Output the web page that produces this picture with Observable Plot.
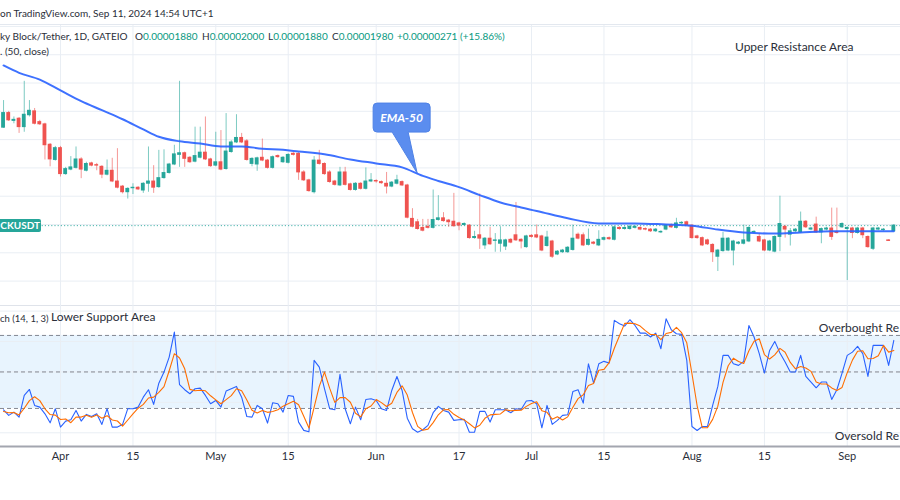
<!DOCTYPE html>
<html><head><meta charset="utf-8">
<script src="https://cdn.jsdelivr.net/npm/d3@7"></script>
<script src="https://cdn.jsdelivr.net/npm/@observablehq/plot@0.6"></script>
<style>
body{margin:0;background:#fff;}
#wrap{position:relative;width:900px;height:500px;overflow:hidden;background:#fff;font-family:Lato,"Open Sans",sans-serif;}
.abs{position:absolute;white-space:nowrap;line-height:1;}
.hd{font-size:10px;color:#2a2e39;}
.val{color:#089981;}
.note{font-size:12px;color:#2a2e39;}
</style></head><body><div id="wrap"></div>
<script>
// ---- data (prices in units of 0.000001 USDT) ----
const startDate = "2024-03-21";
const skippedDate = "2024-08-24"; // one daily bar is absent between Aug 15 and Sep 1
const barCount = 173;

const open = [37.1,39.7,38.3,38.7,37.2,39.3,40.0,38.1,37.7,34.1, 31.4,33.5,28.9,29.7,30.0,31.5,29.5,30.8,30.5,30.2,
28.8,29.5,27.6,26.7,25.7,26.4,26.5,26.0,27.2,27.6, 26.6,28.2,29.1,30.6,32.3,32.6,31.8,31.1,31.8,32.7,
31.5,30.4,31.0,29.8,32.8,34.5,35.3,34.7,30.7,30.6, 31.8,31.3,30.0,32.1,31.0,30.9,32.5,32.5,29.2,27.8,
25.7,31.3,30.7,29.2,27.6,26.9,29.2,27.1,26.1,27.2, 26.3,27.6,27.7,27.5,27.2,26.7,27.2,27.5,26.9,21.0,
20.4,19.4,19.6,19.4,20.8,21.1,20.7,20.5,20.2,19.9, 19.8,17.6,18.1,16.3,17.5,17.1,16.6,16.1,17.3,18.1,
17.3,16.0,18.0,18.1,17.9,16.2,17.0,14.7,15.1,15.1, 15.5,18.2,18.1,16.4,16.8,16.3,17.3,17.6,17.3,19.4,
19.2,19.2,19.4,19.4,19.2,19.1,18.8,18.6,19.1,19.8, 19.4,20.2,20.4,19.8,17.9,17.6,17.2,16.4,14.3,15.3,
15.4,15.4,16.6,16.6,17.0,18.6,17.8,17.2,15.4,15.2, 17.8,19.6,18.2,18.8,18.6,20.5,19.1,20.0,18.6,19.1,
19.3,18.7,19.5,19.2,19.3,18.5,19.3,17.8,15.7,19.1, 19.0,17.2,18.8];
const high = [41.9,40.0,39.0,38.9,45.3,41.9,40.5,38.4,37.9,34.3, 33.8,33.8,30.1,32.0,33.7,31.8,31.0,31.0,30.8,30.4,
31.4,31.7,33.4,26.9,26.5,27.2,26.7,27.4,33.7,30.4, 33.1,33.2,30.8,34.0,45.3,32.8,32.0,37.2,37.2,39.0,
31.7,36.3,36.6,39.6,34.8,39.4,36.1,35.0,31.8,31.9, 35.1,31.5,32.1,32.3,32.0,32.5,32.7,32.7,29.5,28.0,
32.0,33.1,30.9,29.5,27.8,30.1,30.1,27.3,27.4,27.4, 30.0,29.0,27.9,27.7,29.2,27.6,28.7,27.7,27.1,22.8,
20.9,20.9,20.9,26.1,25.1,22.1,20.9,25.5,20.4,20.3, 20.0,18.8,25.4,17.7,19.5,18.4,19.6,17.4,17.5,23.9,
17.5,18.1,18.2,19.9,18.1,18.8,17.2,15.4,15.6,16.1, 19.9,18.5,18.5,19.2,17.0,18.9,17.8,17.8,19.7,19.6,
19.6,19.8,19.8,19.6,19.4,19.3,19.3,18.9,20.0,20.1, 21.1,20.5,20.6,20.0,18.1,17.8,17.4,16.6,15.6,18.6,
17.7,17.2,17.0,19.9,19.6,18.9,18.4,17.4,17.2,18.0, 25.0,19.8,19.3,19.3,22.2,20.7,19.5,21.3,19.4,19.5,
22.9,22.9,20.3,19.6,19.5,19.5,19.5,18.0,19.5,19.5, 19.3,17.3,20.0];
const low = [37.0,38.2,37.8,36.1,36.3,39.0,37.6,37.5,31.4,30.2, 31.2,28.4,28.7,29.5,29.8,28.1,29.3,30.2,29.5,28.1,
28.6,27.4,26.3,25.4,24.5,25.3,26.0,25.5,25.7,25.5, 26.4,28.0,28.9,30.4,30.1,30.1,30.8,30.9,31.6,31.3,
30.1,30.2,29.5,29.6,32.6,34.3,34.3,31.2,30.2,29.4, 31.1,29.8,29.8,31.7,30.8,30.7,32.1,27.8,27.6,25.7,
25.4,30.5,28.7,27.3,26.8,26.7,26.8,25.9,25.9,26.1, 26.1,27.4,27.3,27.1,25.4,26.5,27.0,26.7,21.0,19.4,
19.0,18.7,19.2,19.2,20.6,20.4,19.5,19.5,18.9,19.7, 17.4,17.4,15.6,15.6,16.3,15.1,15.1,15.4,16.6,17.0,
15.7,15.8,17.6,17.5,15.2,16.0,14.0,14.5,14.9,14.9, 15.3,17.3,16.1,16.2,16.4,16.1,17.1,17.2,17.1,19.0,
19.0,19.0,19.2,18.9,18.9,18.6,18.6,18.4,18.9,19.3, 19.2,20.0,19.7,17.4,17.4,16.1,16.3,13.3,11.7,15.1,
15.2,12.7,16.4,16.4,16.8,18.4,16.8,15.2,15.2,15.0, 15.2,17.6,16.2,18.6,18.4,19.3,18.9,18.4,16.6,18.9,
17.2,18.3,19.3,10.1,17.5,18.3,17.5,15.8,15.4,18.9, 18.8,17.0,18.8];
const close = [39.7,38.4,38.5,37.2,39.4,40.1,37.8,37.7,34.0,31.5, 33.5,28.9,29.8,30.1,31.5,29.7,30.7,30.4,30.4,28.8,
29.5,27.6,26.5,25.7,26.3,26.5,26.2,27.2,27.6,26.5, 28.2,29.1,30.6,32.4,32.6,31.6,31.0,32.1,32.7,31.5,
30.3,31.0,29.7,32.9,34.5,35.3,34.5,31.4,31.6,31.7, 31.3,30.0,31.9,31.9,31.8,32.3,32.3,29.2,27.8,25.9,
31.3,30.7,28.9,27.5,27.0,29.2,27.0,26.1,27.2,26.3, 27.6,27.8,27.6,27.3,26.7,27.4,27.8,26.9,21.2,19.6,
19.2,18.9,19.4,20.8,21.1,20.6,20.4,19.7,19.8,20.1, 17.6,17.8,17.5,17.5,16.5,17.2,17.2,17.2,16.8,17.2,
17.0,17.9,17.8,17.7,15.4,17.7,14.3,15.2,15.4,15.9, 17.5,17.5,16.3,17.3,16.6,17.3,17.6,17.4,19.5,19.2,
19.4,19.6,19.6,19.1,19.1,18.8,19.1,18.7,19.8,19.5, 20.2,20.3,19.9,17.6,17.6,16.3,16.5,15.1,15.4,17.5,
17.5,17.0,16.8,17.2,19.4,18.7,17.0,15.4,17.0,17.8, 20.1,19.1,18.8,19.1,20.5,19.5,19.3,18.6,19.2,19.3,
17.8,18.5,20.1,19.4,18.5,19.3,18.1,16.0,19.3,19.3, 19.1,17.09,19.8];

const emaDates = ["2024-03-21","2024-03-24","2024-03-28","2024-04-01","2024-04-05","2024-04-09","2024-04-13","2024-04-17",
"2024-04-20","2024-04-24","2024-04-28","2024-05-02","2024-05-06","2024-05-10","2024-05-14","2024-05-17","2024-05-22",
"2024-05-27","2024-06-01","2024-06-06","2024-06-10","2024-06-13","2024-06-17","2024-06-21","2024-06-25","2024-06-29",
"2024-07-02","2024-07-08","2024-07-14","2024-07-21","2024-07-27","2024-08-01","2024-08-06","2024-08-11","2024-08-17",
"2024-08-22","2024-08-29","2024-09-05","2024-09-10"];
const emaValues = [48.1,46.8,45.6,43.7,41.8,40.2,38.6,36.8,35.5,34.7,34.3,33.8,33.8,33.4,33.2,32.9,32.4,31.5,30.8,30.1,
28.6,27.7,26.6,25.2,23.9,23.0,22.4,21.1,20.2,20.2,20.0,19.8,19.1,18.6,18.4,18.6,18.8,18.8,18.8];

const stochK = [18.9,14.3,17.0,12.9,30.7,35.6,22.5,21.1,15.6,8.2, 19.8,4.7,9.6,10.7,18.4,9.6,15.1,13.4,15.6,6.9,
19.8,4.7,4.7,6.9,19.8,19.8,21.1,29.3,35.4,23.3, 40.8,49.9,62.2,82.8,39.5,35.4,32.1,36.2,36.7,30.7,
23.9,26.6,21.1,34.3,36.2,38.1,29.3,13.4,12.9,22.5, 19.8,8.0,24.7,23.9,17.0,30.7,29.9,8.8,2.0,0.8,
59.5,54.0,36.2,19.8,18.9,48.0,19.8,7.4,21.1,10.7, 27.4,28.0,26.6,19.8,18.4,34.8,46.3,34.8,12.0,3.3,
0.5,2.5,6.1,16.5,21.7,18.4,17.0,10.2,10.7,11.0, 0.5,0.5,17.6,17.6,8.8,18.9,18.9,18.9,16.5,19.8,
19.2,26.1,26.6,23.9,4.1,22.5,6.9,10.2,14.3,14.8, 34.0,35.4,24.4,56.7,40.8,56.7,58.7,57.3,92.4,89.6,
87.7,92.9,88.2,81.9,81.9,78.7,81.9,69.1,93.7,84.7, 81.4,80.9,59.5,5.2,1.9,5.2,5.2,22.5,38.1,63.6,
63.6,56.7,55.4,58.7,88.2,78.7,65.0,49.1,67.7,75.1, 65.5,58.1,49.9,49.9,63.6,46.3,41.7,37.0,41.7,41.7,
27.4,35.4,49.1,63.6,66.3,71.0,65.0,46.3,71.8,71.8, 71.8,55.4,75.9];
const stochD = [17.5,16.5,16.7,14.7,20.2,26.4,29.6,26.4,19.7,15.0, 14.5,10.9,11.4,8.3,12.9,12.9,14.4,12.7,14.7,12.0,
14.1,10.5,9.7,5.4,10.5,15.5,20.2,23.4,28.6,29.3, 33.2,38.0,51.0,65.0,61.5,52.6,35.7,34.6,35.0,34.5,
30.4,27.1,23.9,27.3,30.5,36.2,34.5,26.9,18.5,16.3, 18.4,16.8,17.5,18.9,21.9,23.9,25.9,23.1,13.6,3.9,
20.8,38.1,49.9,36.7,25.0,28.9,28.9,25.1,16.1,13.1, 19.7,22.0,27.3,24.8,21.6,24.3,33.2,38.6,31.0,16.7,
5.3,2.1,3.0,8.4,14.8,18.9,19.0,15.2,12.6,10.6, 7.4,4.0,6.2,11.9,14.7,15.1,15.5,18.9,18.1,18.4,
18.5,21.7,24.0,25.5,18.2,16.8,11.2,13.2,10.5,13.1, 21.0,28.1,31.3,38.8,40.6,51.4,52.1,57.6,69.5,79.8,
89.9,90.1,89.6,87.7,84.0,80.8,80.8,76.6,81.6,82.5, 86.6,82.3,73.9,48.5,22.2,4.1,4.1,11.0,21.9,41.4,
55.1,61.3,58.6,56.9,67.4,75.2,77.3,64.3,60.6,64.0, 69.4,66.2,57.8,52.6,54.5,53.3,50.5,41.7,40.1,40.1,
36.9,34.8,37.3,49.4,59.7,67.0,67.4,60.8,61.0,63.3, 71.8,66.3,67.7];

const tickDates = ["2024-04-01","2024-04-15","2024-05-01","2024-05-15","2024-06-01","2024-06-17","2024-07-01","2024-07-15","2024-08-01","2024-08-15","2024-09-01"];
const tickLabels = ["Apr","15","May","15","Jun","17","Jul","15","Aug","15","Sep"];
const priceGrid = [10,15,20,25,30,35,40,45,50,55];
const stochGrid = [0,25,50,75,100];
const stochLevels = [80,50,20];
const stochBand = [20,80];
const lastClose = 19.8;
const callout = {date:"2024-06-09", price:29.0, text:"EMA-50"};

// ---- build ----
const dates = [];
for (let d = new Date(startDate + "T00:00:00Z"); dates.length < barCount; d.setUTCDate(d.getUTCDate() + 1)) {
  const s = d.toISOString().slice(0, 10);
  if (s !== skippedDate) dates.push(s);
}
const barOf = s => dates.indexOf(s);
const GREEN = "#26a69a", RED = "#ef5350";
const bars = dates.map((date, i) => ({bar: i, date, open: open[i], high: high[i], low: low[i], close: close[i],
  color: close[i] >= open[i] ? GREEN : RED}));
const ema = emaDates.map((d, i) => ({bar: barOf(d), value: emaValues[i]}));
const stoch = dates.map((d, i) => ({bar: i, k: stochK[i], d: stochD[i]}));
const tickBars = tickDates.map(barOf);
const tickLabel = new Map(tickBars.map((b, i) => [b, tickLabels[i]]));
const GRID = "#e9eef4";
const xDomain = [-0.59, 173.29];

const wrap = document.getElementById("wrap");

const price = Plot.plot({
  width: 900, height: 281, marginTop: 0, marginBottom: 0, marginLeft: 0, marginRight: 0,
  x: {type: "linear", domain: xDomain, axis: null, label: null},
  y: {domain: [5.69, 55.34], axis: null, label: null},
  color: {type: "identity"},
  style: {background: "transparent", overflow: "visible"},
  marks: [
    Plot.ruleY(priceGrid, {stroke: GRID}),
    Plot.ruleX(tickBars, {stroke: GRID}),
    Plot.ruleY([lastClose], {stroke: GREEN, strokeDasharray: "1.2 2", strokeOpacity: 0.85}),
    Plot.ruleX(bars, {x: "bar", y1: "low", y2: "high", stroke: "color", strokeOpacity: 0.6}),
    Plot.rect(bars, {x1: d => d.bar - 0.37, x2: d => d.bar + 0.37, y1: "open", y2: "close", fill: "color", insetTop: -0.45, insetBottom: -0.45}),
    Plot.line(ema, {x: "bar", y: "value", stroke: "#2962ff", strokeWidth: 2, curve: "monotone-x", strokeOpacity: 0.9}),
    Plot.frame({anchor: "bottom", stroke: "#dfe3ea"}),
    Plot.frame({anchor: "top", stroke: "#e3e8ef"})
  ]
});
price.style.position = "absolute"; price.style.left = "0px"; price.style.top = "24px";
wrap.appendChild(price);

const sto = Plot.plot({
  width: 900, height: 165, marginTop: 0, marginBottom: 24, marginLeft: 0, marginRight: 0,
  x: {type: "linear", domain: xDomain, label: null},
  y: {domain: [-11.26, 104.6], axis: null, label: null},
  style: {background: "transparent", fontFamily: "Lato, sans-serif", fontSize: "11px", overflow: "visible"},
  marks: [
    Plot.rect([stochBand], {x1: xDomain[0], x2: xDomain[1], y1: d => d[0], y2: d => d[1], fill: "#2196f3", fillOpacity: 0.1}),
    Plot.ruleY(stochGrid, {stroke: GRID}),
    Plot.ruleX(tickBars, {stroke: GRID}),
    Plot.ruleY(stochLevels, {stroke: "#787b86", strokeDasharray: "4 3", strokeOpacity: 0.9}),
    Plot.line(stoch, {x: "bar", y: "k", stroke: "#2962ff", strokeWidth: 1.1}),
    Plot.line(stoch, {x: "bar", y: "d", stroke: "#ff6d00", strokeWidth: 1.1}),
    Plot.frame({anchor: "bottom", stroke: "#a3a6af", strokeWidth: 2}),
    Plot.axisX(tickBars, {tickSize: 0, tickPadding: 6, tickFormat: b => tickLabel.get(b), fill: "#2a2e39", fontSize: 11, label: null})
  ]
});
sto.style.position = "absolute"; sto.style.left = "0px"; sto.style.top = "305px";
wrap.appendChild(sto);

// ---- text overlays ----
function addText(txt, left, top, cls, extra) {
  const el = document.createElement("div");
  el.className = "abs " + cls; el.textContent = txt;
  if (left !== null) el.style.left = left + "px";
  el.style.top = top + "px";
  if (extra) Object.assign(el.style, extra);
  wrap.appendChild(el); return el;
}
addText("on TradingView.com, Sep 11, 2024 14:54 UTC+1", 0, 8, "hd");
addText("ky Block/Tether, 1D, GATEIO", 0, 31, "hd");
const seg = [["O", "0.00001880", 135], ["H", "0.00002000", 202], ["L", "0.00001880", 268], ["C", "0.00001980", 332]];
for (const [k, v, x] of seg) {
  const el = addText(k, x, 31, "hd");
  const s = document.createElement("span"); s.className = "val"; s.textContent = v; el.appendChild(s);
}
addText("+0.00000271", 397, 31, "hd val");
addText("(+15.86%)", 460, 31, "hd val");
addText(". (50, close)", 0, 46, "hd");
addText("ch (14, 1, 3)", 0, 313.5, "hd", {fontSize: "9.5px"});
addText("Lower Support Area", 51, 311, "note");
addText("Upper Resistance Area", 735, 41, "note");
addText("Overbought Re", null, 322, "note", {right: "1px"});
addText("Oversold Re", null, 430, "note", {right: "1px"});

// last price label
const sy = price.scale("y"), sx = price.scale("x");
const ly = sy.apply(lastClose) + 24;
addText("CKUSDT", 0, ly - 6.5, "", {background: GREEN, color: "#fff", fontSize: "10px", fontWeight: "700",
  height: "13px", lineHeight: "13px", width: "41px", textAlign: "right", paddingRight: "1px", borderRadius: "0 2px 2px 0", boxSizing: "border-box"});

// EMA-50 callout anchored on the EMA line
const tx = sx.apply(barOf(callout.date)), ty = sy.apply(callout.price) + 24;
const ns = "http://www.w3.org/2000/svg";
const svg = document.createElementNS(ns, "svg");
svg.setAttribute("width", 900); svg.setAttribute("height", 500);
svg.style.position = "absolute"; svg.style.left = "0"; svg.style.top = "0"; svg.style.overflow = "visible";
const bx = tx - 44, by = ty - 70, bw = 57, bh = 29;
const path = document.createElementNS(ns, "path");
path.setAttribute("d", `M${bx + 4},${by} H${bx + bw - 4} Q${bx + bw},${by} ${bx + bw},${by + 4} V${by + bh - 4} Q${bx + bw},${by + bh} ${bx + bw - 4},${by + bh} H${tx - 9} L${tx},${ty} L${tx - 25},${by + bh} H${bx + 4} Q${bx},${by + bh} ${bx},${by + bh - 4} V${by + 4} Q${bx},${by} ${bx + 4},${by} Z`);
path.setAttribute("fill", "#5b8def"); path.setAttribute("stroke", "#4f82e6"); path.setAttribute("stroke-width", "1");
svg.appendChild(path);
const t = document.createElementNS(ns, "text");
t.setAttribute("x", bx + bw / 2); t.setAttribute("y", by + bh / 2 + 4);
t.setAttribute("text-anchor", "middle"); t.setAttribute("fill", "#fff");
t.setAttribute("font-family", "Lato, sans-serif"); t.setAttribute("font-size", "12"); t.setAttribute("font-style", "italic"); t.setAttribute("font-weight", "700");
t.textContent = callout.text;
svg.appendChild(t);
wrap.appendChild(svg);
</script></body></html>
